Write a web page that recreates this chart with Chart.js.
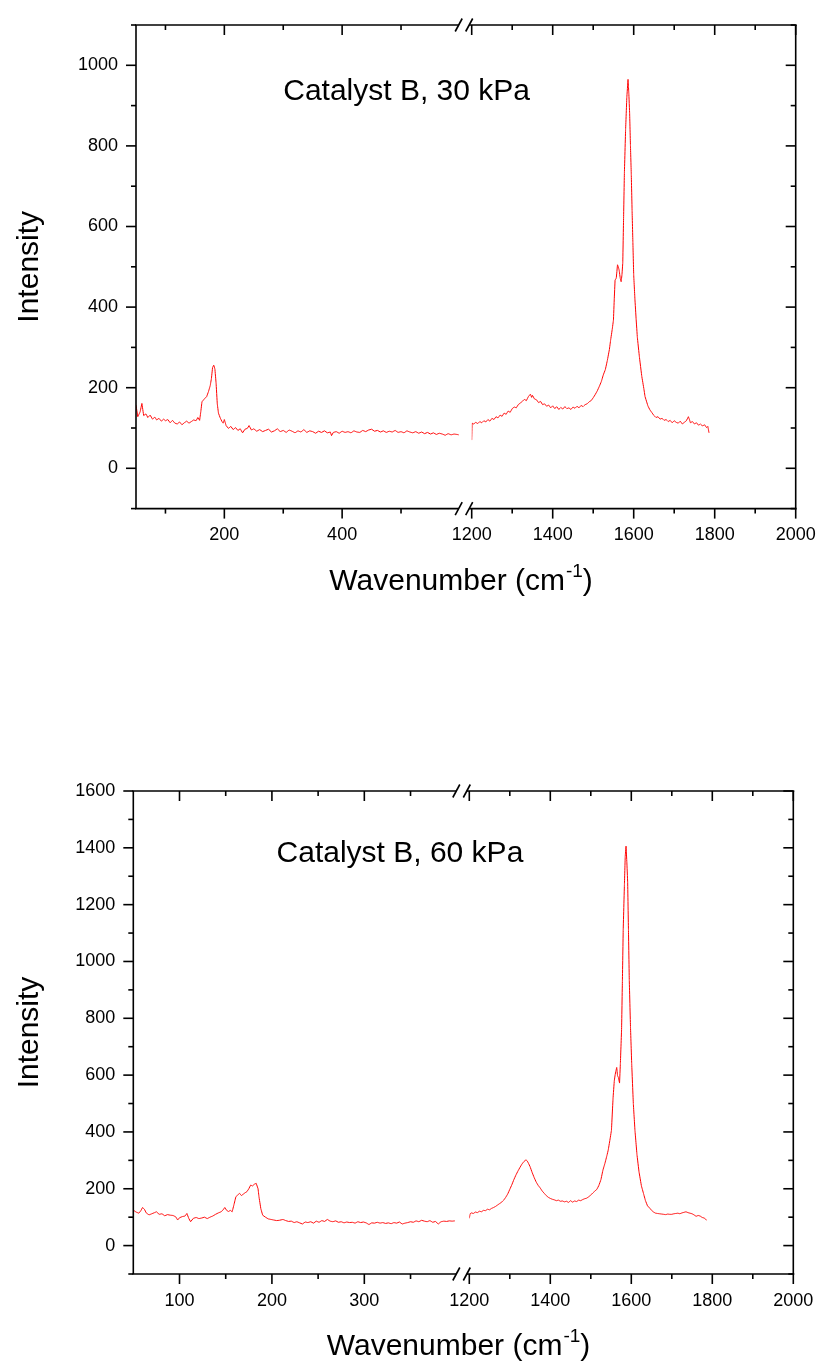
<!DOCTYPE html>
<html>
<head>
<meta charset="utf-8">
<script src="https://cdn.jsdelivr.net/npm/chart.js@4"></script>
<style>
  html, body { margin: 0; padding: 0; background: #fff; }
  .panel { position: absolute; left: 0; }
</style>
</head>
<body>
<div class="panel" style="top:0"><canvas id="c30" width="818" height="682"></canvas></div>
<div class="panel" style="top:682px"><canvas id="c60" width="818" height="681"></canvas></div>
<script>
// ---- 30 kPa spectrum, low wavenumber part
const wn30Low = [50,53,57,60,63,67,70,74,78,82,85,89,93,97,100,104,108,112,116,120,124,128,132,136,140,144,148,152,155,158,160,162,166,170,173,176,178,180,182,184,186,188,190,193,196,198,200,203,207,211,215,219,223,227,231,235,239,242,246,250,255,260,265,270,275,280,285,290,295,300,305,310,315,320,325,330,335,340,345,350,355,360,365,370,375,380,382,385,390,395,400,405,410,415,420,425,430,435,440,445,450,455,460,465,470,475,480,485,490,495,500,505,510,515,520,525,530,535,540,545,550,555,560,565,570,575,580,585,590,595,598];
const int30Low = [157,128,140,161,131,135,126,132,122,127,120,124,117,122,118,121,113,119,112,110,115,108,113,117,112,116,120,118,126,119,140,165,172,178,190,205,222,250,256,246,211,160,137,125,116,112,121,106,99,104,96,101,94,98,88,97,99,106,95,98,92,96,91,94,97,90,93,98,91,94,89,95,92,88,93,90,96,89,93,91,87,92,89,93,88,90,81,89,91,87,92,89,91,88,93,90,89,94,91,95,97,92,94,90,93,89,92,90,94,89,91,88,93,90,88,91,87,90,86,89,85,88,84,87,85,82,86,83,85,84,83];
// ---- 30 kPa spectrum, high wavenumber part
const wn30High = [1200,1201,1205,1210,1215,1220,1225,1230,1235,1240,1245,1250,1255,1260,1265,1270,1275,1280,1285,1290,1295,1300,1305,1310,1315,1320,1325,1330,1335,1340,1345,1348,1350,1355,1360,1365,1370,1375,1380,1385,1390,1395,1400,1405,1410,1415,1420,1425,1430,1435,1440,1445,1450,1455,1460,1465,1470,1475,1480,1485,1490,1495,1500,1505,1510,1515,1520,1525,1530,1535,1540,1543,1547,1550,1552,1554,1557,1560,1562,1564,1567,1569,1571,1573,1575,1577,1580,1583,1586,1588,1590,1592,1594,1596,1598,1600,1603,1606,1609,1614,1620,1625,1628,1635,1640,1645,1650,1655,1660,1665,1670,1675,1680,1685,1690,1695,1700,1705,1710,1715,1720,1725,1730,1735,1738,1740,1745,1750,1755,1760,1765,1770,1775,1780,1783,1786];
const int30High = [70,112,110,114,111,116,113,118,115,121,117,124,121,128,125,132,129,137,134,142,139,148,152,150,158,162,166,171,168,178,184,176,181,172,170,163,166,158,160,154,157,150,155,148,153,146,151,147,153,148,150,146,152,149,154,150,156,153,158,160,165,168,175,183,192,203,215,232,245,268,295,318,345,368,420,467,472,505,500,492,470,463,480,509,620,732,840,920,965,930,880,800,730,640,560,480,420,370,325,277,228,198,178,155,145,138,131,126,128,122,124,119,121,116,119,113,118,114,112,117,110,114,118,128,120,113,116,110,113,107,110,105,108,101,104,88];

// ---- 60 kPa spectrum, low wavenumber part
const wn60Low = [50,53,56,58,60,62,64,67,70,73,75,78,81,84,87,90,93,96,98,100,103,106,108,110,112,115,118,121,124,127,130,133,136,139,142,145,147,149,151,153,155,157,159,161,163,165,167,169,171,173,175,177,179,181,183,185,186,188,190,193,196,199,202,205,208,212,215,218,221,224,227,230,233,236,239,242,245,248,251,254,257,260,263,266,269,272,275,278,281,284,287,290,293,296,299,302,305,308,311,314,317,320,323,326,329,332,335,338,341,344,347,350,353,356,359,362,365,368,371,374,377,380,383,386,389,392,395,398];
const int60Low = [125,118,114,122,134,128,115,108,112,116,119,110,112,105,109,107,106,101,90,98,102,104,113,96,84,96,99,95,97,100,95,100,104,110,115,119,125,134,124,120,124,119,145,172,178,184,176,181,186,190,200,213,210,216,219,200,172,130,107,100,94,92,90,88,89,92,88,85,86,81,84,80,76,83,81,84,79,86,82,88,85,92,86,84,87,82,84,80,83,81,82,79,84,81,83,80,74,80,79,82,79,81,78,80,77,81,79,83,76,79,81,84,82,87,84,89,86,84,88,82,85,76,84,86,85,87,86,87];
// ---- 60 kPa spectrum, high wavenumber part
const wn60High = [1200,1202,1205,1210,1215,1220,1225,1230,1235,1240,1245,1250,1255,1260,1265,1270,1275,1280,1285,1290,1295,1300,1305,1310,1315,1320,1325,1330,1335,1340,1343,1346,1350,1355,1360,1365,1370,1375,1380,1385,1390,1395,1400,1405,1410,1415,1420,1425,1430,1435,1440,1445,1450,1455,1460,1465,1470,1475,1480,1485,1490,1495,1500,1505,1510,1515,1520,1525,1530,1535,1540,1543,1547,1551,1555,1558,1560,1562,1564,1566,1568,1571,1573,1576,1578,1580,1583,1585,1587,1589,1591,1593,1595,1598,1601,1605,1609,1614,1619,1625,1630,1635,1640,1646,1650,1655,1660,1665,1670,1675,1680,1685,1690,1695,1700,1705,1710,1715,1720,1725,1730,1735,1740,1745,1750,1755,1760,1765,1770,1775,1780,1783,1786];
const int60High = [96,112,115,113,118,116,121,119,124,123,128,126,131,134,138,143,148,153,160,170,182,198,214,232,248,262,275,287,296,302,298,290,278,258,240,224,212,203,192,184,176,170,166,163,161,158,160,156,157,154,156,152,158,153,157,155,160,158,162,165,167,172,178,185,192,198,212,232,266,290,318,336,370,406,520,580,600,615,627,598,592,572,640,760,930,1110,1270,1370,1406,1350,1280,1110,935,770,640,500,406,320,260,210,184,158,140,131,124,118,114,113,112,111,110,109,111,110,110,112,113,114,112,115,117,119,116,114,112,108,103,106,104,99,97,93,90];

// axis ticks (all marks) and the labelled ones
const y30Ticks = [-100,0,100,200,300,400,500,600,700,800,900,1000,1100];
const y30Labels = [0,200,400,600,800,1000];
const x30LowTicks = [100,200,300,400,500];
const x30LowLabels = [200,400];
const y60Ticks = [-100,0,100,200,300,400,500,600,700,800,900,1000,1100,1200,1300,1400,1500,1600];
const y60Labels = [0,200,400,600,800,1000,1200,1400,1600];
const x60LowTicks = [100,150,200,250,300,350];
const x60LowLabels = [100,200,300];
const xHighTicks = [1200,1300,1400,1500,1600,1700,1800,1900,2000];
const xHighLabels = [1200,1400,1600,1800,2000];

const FONT = "'Liberation Sans', Arial, sans-serif";

function toPoints(xs, ys) {
  return xs.map((x, i) => ({ x: x, y: ys[i] }));
}

// frame, ticks, axis break marks, x title and panel label
const framePlugin = {
  id: 'frame',
  afterDraw(chart, args, opts) {
    const { ctx, chartArea: a, scales } = chart;
    const xl = scales.xLow, xh = scales.xHigh, y = scales.y;
    const seg = (x1, y1, x2, y2) => { ctx.beginPath(); ctx.moveTo(x1, y1); ctx.lineTo(x2, y2); ctx.stroke(); };
    ctx.save();
    ctx.strokeStyle = '#000';
    ctx.lineWidth = 1.6;
    ctx.lineCap = 'butt';

    seg(a.left, a.top, a.left, a.bottom);
    seg(a.right, a.top, a.right, a.bottom);

    const c1 = xh.left - 13, c2 = xh.left - 2.5;
    for (const yy of [a.top, a.bottom]) {
      seg(a.left - 1, yy, c1, yy);
      seg(c2, yy, a.right + 1, yy);
      seg(c1 - 3.5, yy + 6.5, c1 + 3.5, yy - 6.5);
      seg(c2 - 3.5, yy + 6.5, c2 + 3.5, yy - 6.5);
    }

    // x ticks: outward at bottom, inward at top
    for (const sc of [xl, xh]) {
      const labels = sc.id === 'xLow' ? opts.lowLabels : xHighLabels;
      sc.ticks.forEach(t => {
        const px = sc.getPixelForValue(t.value);
        const len = labels.includes(t.value) ? 10 : 5;
        seg(px, a.bottom, px, a.bottom + len);
        seg(px, a.top, px, a.top + len);
      });
    }
    // y ticks: outward at left, inward at right
    y.ticks.forEach(t => {
      const py = y.getPixelForValue(t.value);
      const len = opts.yLabels.includes(t.value) ? 10 : 5;
      seg(a.left - len, py, a.left, py);
      seg(a.right - len, py, a.right, py);
    });

    // x axis title with superscript
    ctx.fillStyle = '#000';
    ctx.textBaseline = 'alphabetic';
    ctx.textAlign = 'left';
    const big = '30px ' + FONT, small = '19px ' + FONT;
    const t1 = 'Wavenumber (cm', t2 = '-1', t3 = ')';
    ctx.font = big; const w1 = ctx.measureText(t1).width, w3 = ctx.measureText(t3).width;
    ctx.font = small; const w2 = ctx.measureText(t2).width;
    const total = w1 + w2 + w3;
    const cx = a.left + (a.right - a.left) * 0.492;
    const by = a.bottom + 81;
    let x0 = cx - total / 2;
    ctx.font = big; ctx.fillText(t1, x0, by);
    ctx.font = small; ctx.fillText(t2, x0 + w1 + 1, by - 13);
    ctx.font = big; ctx.fillText(t3, x0 + w1 + w2 + 1, by);

    // panel label
    ctx.font = '30px ' + FONT;
    ctx.fillText(opts.label, xl.getPixelForValue(opts.labelAt[0]), y.getPixelForValue(opts.labelAt[1]));
    ctx.restore();
  }
};

function noEdgePadding(s) {
  s.paddingLeft = 0;
  s.paddingRight = 0;
}

function makeChart(id, cfg) {
  const tickFont = { family: FONT, size: 18 };
  const line = { borderColor: '#ff0000', borderWidth: 1, pointRadius: 0, tension: 0.0001, fill: false };
  return new Chart(document.getElementById(id), {
    type: 'line',
    data: {
      datasets: [
        Object.assign({ data: toPoints(cfg.lowX, cfg.lowY), xAxisID: 'xLow', yAxisID: 'y' }, line),
        Object.assign({ data: toPoints(cfg.highX, cfg.highY), xAxisID: 'xHigh', yAxisID: 'y' }, line)
      ]
    },
    options: {
      responsive: false,
      animation: false,
      events: [],
      layout: { padding: { top: cfg.padTop, right: cfg.padRight, left: 0, bottom: 0 } },
      plugins: {
        legend: { display: false },
        tooltip: { enabled: false },
        frame: { label: cfg.label, labelAt: cfg.labelAt, lowLabels: cfg.lowLabels, yLabels: cfg.yLabels }
      },
      scales: {
        xLow: {
          type: 'linear', position: 'bottom', stack: 'x', stackWeight: cfg.lowWeight,
          min: cfg.lowMin, max: cfg.lowMax,
          grid: { display: false, drawTicks: false }, border: { display: false },
          afterBuildTicks: s => { s.ticks = cfg.lowTicks.map(v => ({ value: v })); },
          afterFit: s => { s.height = cfg.xHeight; noEdgePadding(s); },
          ticks: {
            autoSkip: false, maxRotation: 0, padding: 16, color: '#000', font: tickFont,
            callback: v => cfg.lowLabels.includes(v) ? String(v) : ''
          }
        },
        xHigh: {
          type: 'linear', position: 'bottom', stack: 'x', stackWeight: cfg.highWeight,
          min: 1200, max: 2000,
          grid: { display: false, drawTicks: false }, border: { display: false },
          afterBuildTicks: s => { s.ticks = xHighTicks.map(v => ({ value: v })); },
          afterFit: s => { s.height = cfg.xHeight; noEdgePadding(s); },
          ticks: {
            autoSkip: false, maxRotation: 0, padding: 16, color: '#000', font: tickFont,
            callback: v => xHighLabels.includes(v) ? String(v) : ''
          }
        },
        y: {
          type: 'linear', position: 'left',
          min: cfg.yMin, max: cfg.yMax,
          grid: { display: false, drawTicks: false }, border: { display: false },
          afterBuildTicks: s => { s.ticks = cfg.yTicks.map(v => ({ value: v })); },
          afterFit: s => { s.width = cfg.yWidth; s.paddingTop = 0; s.paddingBottom = 0; },
          title: { display: true, text: 'Intensity', color: '#000', font: { family: FONT, size: 30 }, padding: { top: 12 } },
          ticks: {
            autoSkip: false, padding: 18, color: '#000', font: tickFont,
            callback: v => cfg.yLabels.includes(v) ? String(v) : ''
          }
        }
      }
    },
    plugins: [framePlugin]
  });
}

makeChart('c30', {
  lowX: wn30Low, lowY: int30Low, highX: wn30High, highY: int30High,
  lowMin: 50, lowMax: 620, lowTicks: x30LowTicks, lowLabels: x30LowLabels,
  yMin: -100, yMax: 1100, yTicks: y30Ticks, yLabels: y30Labels,
  lowWeight: 335.7, highWeight: 324,
  padTop: 25, padRight: 22.3, yWidth: 136, xHeight: 173.4,
  label: 'Catalyst B, 30 kPa', labelAt: [300, 914]
});

makeChart('c60', {
  lowX: wn60Low, lowY: int60Low, highX: wn60High, highY: int60High,
  lowMin: 50, lowMax: 413.6, lowTicks: x60LowTicks, lowLabels: x60LowLabels,
  yMin: -100, yMax: 1600, yTicks: y60Ticks, yLabels: y60Labels,
  lowWeight: 336, highWeight: 324,
  padTop: 109, padRight: 24.7, yWidth: 133.3, xHeight: 89,
  label: 'Catalyst B, 60 kPa', labelAt: [205, 1350]
});
</script>
</body>
</html>
